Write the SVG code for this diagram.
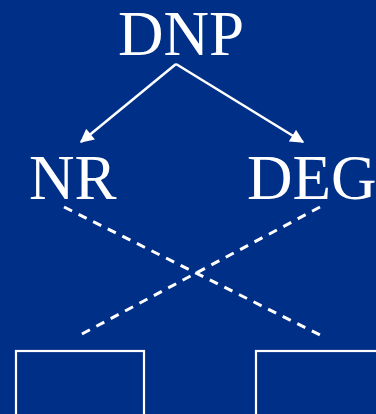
<svg xmlns="http://www.w3.org/2000/svg" width="376" height="414" viewBox="0 0 376 414">
<defs>
<style>
.t{font-family:"Liberation Serif","Times New Roman",serif;font-size:63px;fill:#ffffff}
.a{stroke:#ffffff;stroke-width:2.5;fill:none}
.d{stroke:#ffffff;stroke-width:3;fill:none;stroke-dasharray:9 7.3}
.b{stroke:#ffffff;stroke-width:2.2;fill:none}
</style>
<marker id="ah" viewBox="0 0 10 10" refX="9" refY="5" markerWidth="6" markerHeight="5.5" markerUnits="strokeWidth" orient="auto">
<path d="M0,0 L10,5 L0,10 z" fill="#ffffff"/>
</marker>
</defs>
<rect width="376" height="414" fill="#002f87"/>
<g id="DNP"><text class="t" x="181" y="55" text-anchor="middle">DNP</text></g>
<g id="NR"><text class="t" x="29" y="199">NR</text></g>
<g id="DEG"><text class="t" x="247" y="199">DEG</text></g>
<g id="box1"><rect class="b" x="16" y="351" width="128" height="70"/></g>
<g id="box2"><rect class="b" x="256" y="351" width="130" height="70"/></g>
<g id="connectors">
<path class="a" d="M176,64 L81,142" marker-end="url(#ah)"/>
<path class="a" d="M176,64 L303,142" marker-end="url(#ah)"/>
<path class="d" d="M64,207 L320,335"/>
<path class="d" d="M320,207 L80,335"/>
</g>
</svg>
